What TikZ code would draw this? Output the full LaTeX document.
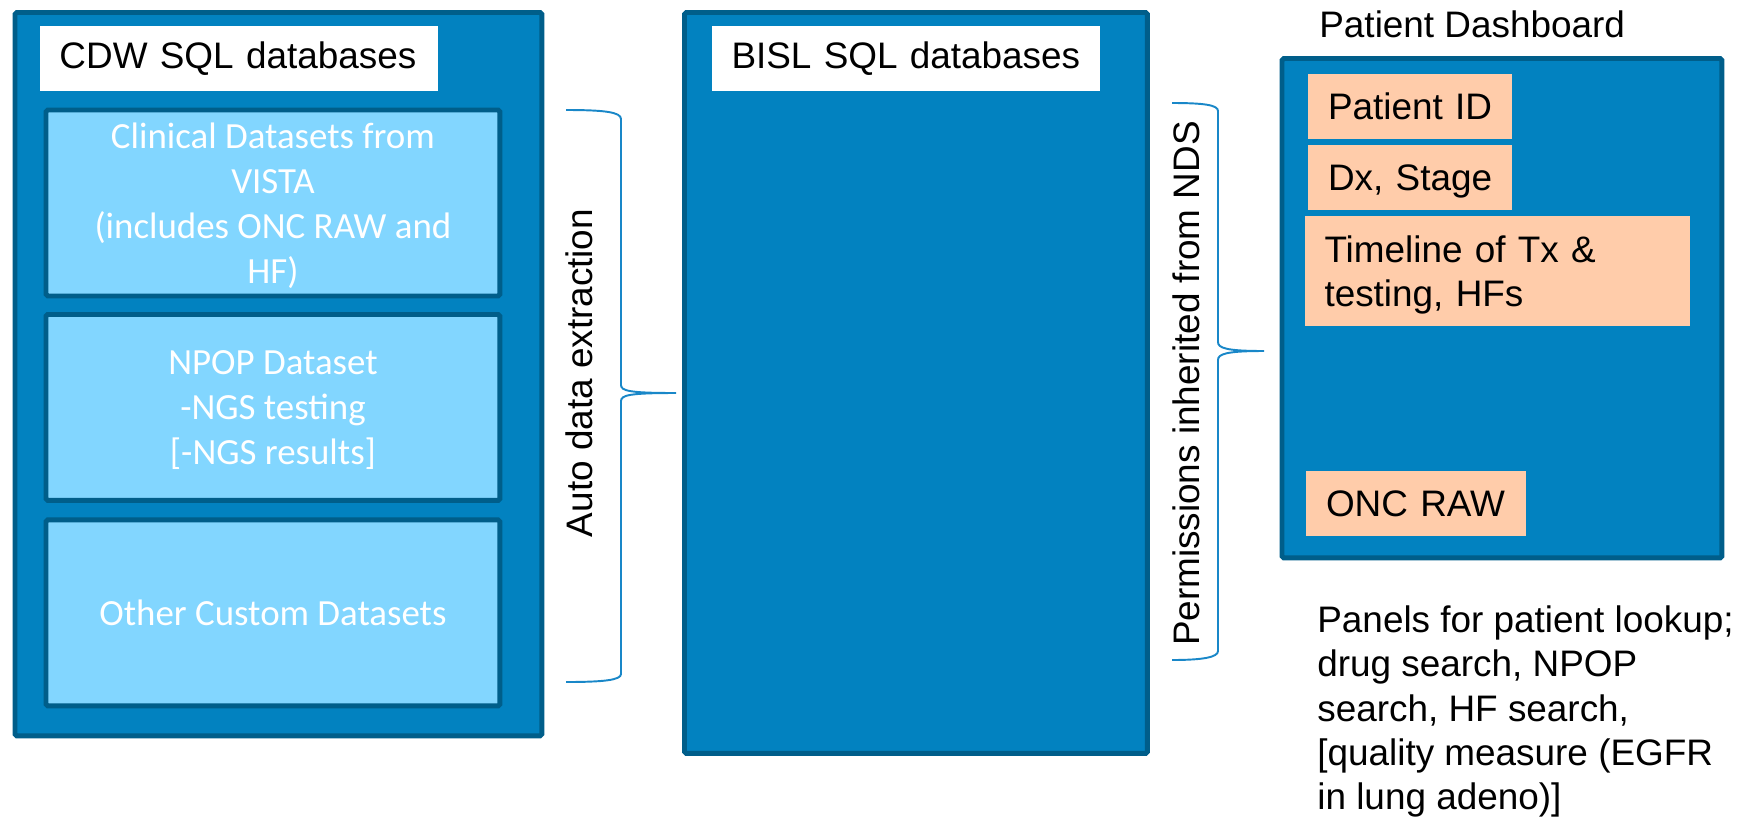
\documentclass[tikz,border=0pt]{standalone}
\usepackage{xcolor}
\usepackage{tikz}
\usetikzlibrary{positioning}
\usepackage{fontspec}
\setmainfont{Liberation Sans}
\newfontfamily\calibrifont{Carlito}
\definecolor{dbblue}{RGB}{2,130,192}
\definecolor{dbedge}{RGB}{0,94,138}
\definecolor{setblue}{RGB}{130,214,255}
\definecolor{panelpeach}{RGB}{255,204,170}
\definecolor{bracecol}{RGB}{25,135,200}

\begin{document}
\begin{tikzpicture}[x=0.02cm, y=-0.02cm,
		txt/.style={font=\fontsize{21}{25.3}\selectfont},
		dbbox/.style={draw=dbedge, fill=dbblue, line width=2.8pt, outer sep=0pt, rounded corners=1pt, anchor=north west},
		titlebox/.style={txt, fill=white, anchor=north west, inner xsep=0.39cm, inner ysep=0pt, outer sep=0pt, minimum height=1.3cm, align=left},
		setbox/.style={draw=dbedge, fill=setblue, line width=2.8pt, outer sep=0pt, rounded corners=1pt, minimum width=9.08cm, minimum height=3.72cm, text depth=0pt, text=white, align=center, font=\calibrifont\fontsize{21}{25.5}\selectfont},
		panel/.style={txt, fill=panelpeach, anchor=north west, inner xsep=0.4cm, inner ysep=0pt, outer sep=0pt, minimum height=1.3cm, text depth=0pt, align=left},
		brace/.style={draw=bracecol, line width=1.1pt}]
		\useasboundingbox (0,0) rectangle (1754,819);
		
		% CDW column
		\node[dbbox, minimum width=10.54cm, minimum height=14.47cm] (cdw) at (15,12.5) {};
		\node[titlebox, text width=7.18cm] (cdwtitle) at (40,26) {CDW SQL databases};
		\node[setbox, anchor=north west] (vista) at (46,110) {Clinical Datasets from\\VISTA\\(includes ONC RAW and\\HF)};
		\node[setbox, below=0.37cm of vista] (npop) {NPOP Dataset\\-NGS testing\\{[}-NGS results{]}};
		\node[setbox, below=0.39cm of npop] (custom) {Other Custom Datasets};
		
		% BISL column
		\node[dbbox, minimum width=9.26cm, minimum height=14.82cm] (bisl) at (684.5,12.5) {};
		\node[titlebox, text width=6.98cm] (bisltitle) at (712,26) {BISL SQL databases};
		
		% dashboard
		\node[txt, anchor=base west, inner sep=0pt] (dashlbl) at (1319,37) {Patient Dashboard};
		\node[dbbox, minimum width=8.8cm, minimum height=9.99cm] (dash) at (1282,58.5) {};
		\node[panel, text width=3.28cm] (pid) at (1308,74) {Patient~ID};
		\node[panel, text width=3.28cm, below=0.12cm of pid] (dx) {Dx,~Stage};
		\node[panel, text width=6.91cm, minimum height=2.2cm, text depth=25.3pt] (tl) at (1304.5,216) {Timeline of Tx \&\\testing, HFs};
		\node[panel, text width=3.6cm] (onc) at (1306,471) {ONC RAW};
		\node[txt, anchor=north west, inner sep=0pt, align=left] (panels) at (1317,605) {Panels for patient lookup;\\drug search, NPOP\\search, HF search,\\{[}quality measure (EGFR\\in lung adeno){]}};
		
		% braces
		\node[txt, rotate=90, anchor=base, inner sep=0pt] (autolbl) at (592,373) {Auto data extraction};
		\draw[brace] (566,110) .. controls (604,110) and (621,112) .. (621,119) -- (621,385) .. controls (621,391) and (630,393) .. (676,393) .. controls (630,393) and (621,395) .. (621,401) -- (621,674) .. controls (621,680) and (604,682) .. (566,682);
		\node[txt, rotate=90, anchor=base, inner sep=0pt] (permlbl) at (1199,383.5) {Permissions inherited from NDS};
		\draw[brace] (1172,103) .. controls (1204,103) and (1218,105) .. (1218,111) -- (1218,342) .. controls (1218,348) and (1226,351) .. (1264,351) .. controls (1226,351) and (1218,354) .. (1218,360) -- (1218,651) .. controls (1218,657) and (1204,660) .. (1172,660);
	\end{tikzpicture}
\end{document}
